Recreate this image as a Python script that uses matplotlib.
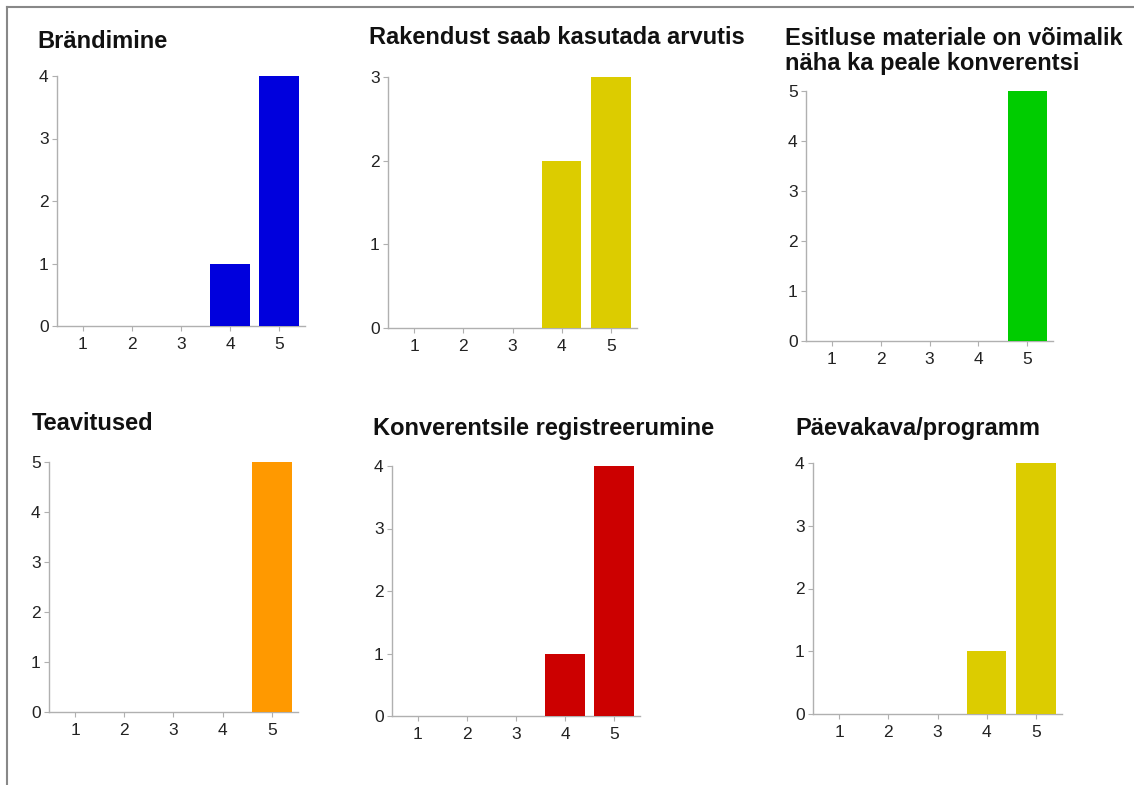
import matplotlib
matplotlib.use('Agg')
import matplotlib.pyplot as plt
from matplotlib.lines import Line2D

plt.rcParams['font.family'] = ['Liberation Sans', 'DejaVu Sans']

W = 1134.0
H = 785.0

# answer scale and counts per question
ratings = [1, 2, 3, 4, 5]

titles = [
  'Brändimine',
  'Rakendust saab kasutada arvutis',
  'Esitluse materiale on võimalik\nnäha ka peale konverentsi',
  'Teavitused',
  'Konverentsile registreerumine',
  'Päevakava/programm',
]

brandimine = [0, 0, 0, 1, 4]
rakendust = [0, 0, 0, 2, 3]
esitluse = [0, 0, 0, 0, 5]
teavitused = [0, 0, 0, 0, 5]
registreerumine = [0, 0, 0, 1, 4]
paevakava = [0, 0, 0, 1, 4]

counts = [brandimine, rakendust, esitluse, teavitused, registreerumine, paevakava]
colors = ['#0000dd', '#dccc00', '#00cc00', '#ff9900', '#cc0000', '#dccc00']

# axes boxes in pixels: left, right, top, bottom
boxes = [
  (57, 305, 76, 326),
  (388, 637, 77, 328),
  (806, 1053, 91, 341),
  (49, 298, 462, 712),
  (392, 640, 466, 716),
  (813, 1062, 463, 714),
]

# title anchors in pixels: left x, center y
title_pos = [
  (37, 42),
  (369, 38),
  (785, 51),
  (32, 423),
  (373, 428),
  (795, 428),
]

fig = plt.figure(figsize=(W / 100, H / 100), dpi=100)
fig.patch.set_facecolor('white')

for i in range(6):
  l, r, t, b = boxes[i]
  ax = fig.add_axes([l / W, 1 - b / H, (r - l) / W, (b - t) / H])
  ax.bar(ratings, counts[i], width=0.8, color=colors[i])
  top = max(counts[i])
  ax.set_ylim(0, top)
  ax.set_xlim(0.47, 5.53)
  ax.set_xticks(ratings)
  ax.set_yticks(range(0, top + 1))
  for s in ['top', 'right']:
    ax.spines[s].set_visible(False)
  for s in ['left', 'bottom']:
    ax.spines[s].set_color('#b0b0b0')
    ax.spines[s].set_linewidth(1.0)
  ax.spines['bottom'].set_zorder(0.5)
  ax.tick_params(axis='both', colors='#b0b0b0', labelcolor='#222222',
                 labelsize=12.5, length=3.5, width=0.8)
  ax.tick_params(axis='x', pad=4.5)
  ax.tick_params(axis='y', pad=2.5)

  tx, ty = title_pos[i]
  fig.text(tx / W, 1 - ty / H, titles[i], fontsize=17, fontweight='bold',
           ha='left', va='center', color='#111111', linespacing=1.12)

# page frame
fig.add_artist(Line2D([7 / W, 7 / W], [0, 1 - 7 / H], color='#888888', linewidth=1.5))
fig.add_artist(Line2D([7 / W, 1], [1 - 7 / H, 1 - 7 / H], color='#888888', linewidth=1.5))

fig.savefig('out.png', dpi=100, facecolor='white')
